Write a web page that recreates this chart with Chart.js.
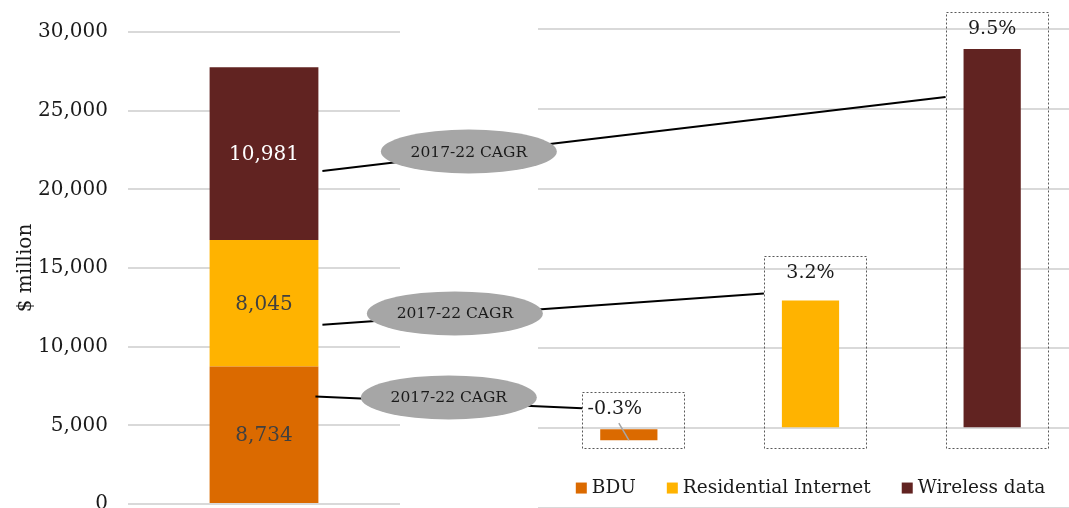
<!DOCTYPE html>
<html>
<head>
<meta charset="utf-8">
<script src="https://cdn.jsdelivr.net/npm/chart.js@4/dist/chart.umd.min.js"></script>
<style>
  html, body { margin: 0; padding: 0; background: #fff; overflow: hidden; width: 1069px; height: 508px; }
  #cLeft { position: absolute; left: 0; top: 0; }
  #cRight { position: absolute; left: 538px; top: 27px; }
  #overlay { position: absolute; left: 0; top: 0; pointer-events: none; }
</style>
</head>
<body>
<canvas id="cLeft" width="400" height="536"></canvas>
<canvas id="cRight" width="545" height="483"></canvas>
<canvas id="overlay" width="1069" height="508"></canvas>
<script>
// ---------------------------------------------------------------------------
// data
const SERIES = ['BDU', 'Residential Internet', 'Wireless data'];
const COLORS = ['#DB6A00', '#FFB300', '#612321'];
const REVENUE = [8734, 8045, 10981];      // $ million, stacked bar
const CAGR = [-0.3, 3.2, 9.5];            // 2017-22 CAGR, %
const Y_TICKS = [0, 5000, 10000, 15000, 20000, 25000, 30000];
const CAGR_TEXT = '2017-22 CAGR';
const Y_TITLE = '$ million';

const FONT = "'DejaVu Serif', 'Liberation Serif', serif";
const GRID = '#D9D9D9';
const INK = '#1a1a1a';

// ---------------------------------------------------------------------------
// value labels inside the stacked bar
const stackLabels = {
    id: 'stackLabels',
    afterDatasetsDraw(chart) {
        const ctx = chart.ctx;
        ctx.save();
        ctx.font = '20px ' + FONT;
        ctx.textAlign = 'center';
        ctx.textBaseline = 'middle';
        chart.data.datasets.forEach((ds, i) => {
            const bar = chart.getDatasetMeta(i).data[0];
            ctx.fillStyle = i === 2 ? '#ffffff' : '#404040';
            ctx.fillText(ds.data[0].toLocaleString('en-US'), bar.x, (bar.y + bar.base) / 2 + 1);
        });
        ctx.restore();
    }
};

const leftChart = new Chart(document.getElementById('cLeft'), {
    type: 'bar',
    data: {
        labels: [''],
        datasets: SERIES.map((s, i) => ({
            label: s,
            data: [REVENUE[i]],
            backgroundColor: COLORS[i],
            barPercentage: 0.4,
            categoryPercentage: 1
        }))
    },
    options: {
        responsive: false,
        animation: false,
        layout: { padding: { top: 18, right: 0, bottom: 0, left: 0 } },
        plugins: { legend: { display: false }, tooltip: { enabled: false } },
        scales: {
            x: { stacked: true, display: false },
            y: {
                stacked: true,
                min: Y_TICKS[0],
                max: Y_TICKS[Y_TICKS.length - 1],
                afterBuildTicks: (s) => { s.ticks = Y_TICKS.map(v => ({ value: v })); },
                afterFit: (s) => { s.width = 128; },
                ticks: {
                    color: INK,
                    font: { family: FONT, size: 20 },
                    padding: 20,
                    callback: (v) => v.toLocaleString('en-US')
                },
                grid: { color: GRID, lineWidth: 2, drawTicks: false },
                border: { display: false },
                title: {
                    display: true,
                    text: Y_TITLE,
                    color: INK,
                    font: { family: FONT, size: 20 },
                    padding: { top: 14, bottom: 6 }
                }
            }
        }
    },
    plugins: [stackLabels]
});

// ---------------------------------------------------------------------------
// custom legend under the CAGR bars
const cagrLegend = {
    id: 'cagrLegend',
    afterDraw(chart) {
        const ctx = chart.ctx;
        const area = chart.chartArea;
        const y = chart.scales.y.getPixelForValue(-1.5);
        const box = 11, gapBox = 5, gapItem = 31;
        ctx.save();
        ctx.font = '18.5px ' + FONT;
        ctx.textBaseline = 'middle';
        const widths = SERIES.map(s => ctx.measureText(s).width);
        const total = widths.reduce((a, w) => a + box + gapBox + w, 0) + gapItem * (SERIES.length - 1);
        let x = (area.left + area.right) / 2 - total / 2;
        SERIES.forEach((s, i) => {
            ctx.fillStyle = COLORS[i];
            ctx.fillRect(x, y - box / 2, box, box);
            x += box + gapBox;
            ctx.fillStyle = INK;
            ctx.fillText(s, x, y);
            x += widths[i] + gapItem;
        });
        ctx.restore();
    }
};

const rightChart = new Chart(document.getElementById('cRight'), {
    type: 'bar',
    data: {
        labels: SERIES,
        datasets: [{
            label: CAGR_TEXT,
            data: CAGR,
            backgroundColor: COLORS,
            barPercentage: 0.315,
            categoryPercentage: 1
        }]
    },
    options: {
        responsive: false,
        animation: false,
        layout: { padding: { top: 2, right: 0, bottom: 2, left: 0 } },
        plugins: { legend: { display: false }, tooltip: { enabled: false } },
        scales: {
            x: { display: false },
            y: {
                min: -2,
                max: 10,
                ticks: { display: false, stepSize: 2 },
                afterFit: (s) => { s.width = 0; },
                grid: { color: GRID, lineWidth: 2, drawTicks: false },
                border: { display: false }
            }
        }
    },
    plugins: [cagrLegend]
});

// ---------------------------------------------------------------------------
// overlay: dashed label boxes, CAGR ellipses and connector lines
const ov = document.getElementById('overlay');
const g = ov.getContext('2d');
const rOff = { x: 538, y: 27 };

// per-series tweaks for the annotation shapes
const LINK_FROM = [0.22, 0.67, 0.6];    // fraction down the stacked segment
const LINK_TO = [16, 37, 85];           // px below the top of the dashed box
const ELLIPSE_AT = [0.5, 0.3, 0.235];   // fraction along the connector
const LABEL_SHIFT = [-14, 0, 0];

const zeroY = rightChart.scales.y.getPixelForValue(0) + rOff.y;
const boxes = rightChart.getDatasetMeta(0).data.map((b, i) => {
    const top = Math.min(b.y, b.base) + rOff.y - (i === 1 ? 44 : 37);
    return {
        left: b.x + rOff.x - b.width / 2 - 18,
        right: b.x + rOff.x + b.width / 2 + 27,
        top: top,
        bottom: zeroY + 20,
        cx: b.x + rOff.x,
        barBottom: Math.max(b.y, b.base) + rOff.y
    };
});

// dashed boxes + percentage labels
g.save();
g.strokeStyle = '#595959';
g.lineWidth = 1;
g.setLineDash([2, 2]);
boxes.forEach(bx => {
    g.strokeRect(Math.round(bx.left) + 0.5, Math.round(bx.top) + 0.5,
        Math.round(bx.right - bx.left), Math.round(bx.bottom - bx.top));
});
g.setLineDash([]);
g.fillStyle = INK;
g.font = '19px ' + FONT;
g.textAlign = 'center';
g.textBaseline = 'middle';
boxes.forEach((bx, i) => {
    g.fillText(CAGR[i].toFixed(1) + '%', bx.cx + LABEL_SHIFT[i], bx.top + 17);
});
// small leader line on the negative bar
g.strokeStyle = '#A6A6A6';
g.lineWidth = 1.5;
g.beginPath();
g.moveTo(boxes[0].cx - 10, boxes[0].top + 31);
g.lineTo(boxes[0].cx, boxes[0].barBottom);
g.stroke();
g.restore();

// connectors and ellipses
SERIES.forEach((s, i) => {
    const seg = leftChart.getDatasetMeta(i).data[0];
    const x0 = seg.x + seg.width / 2 + (i === 0 ? -3 : 4);
    const y0 = seg.y + (seg.base - seg.y) * LINK_FROM[i];
    const x1 = boxes[i].left;
    const y1 = boxes[i].top + LINK_TO[i];
    g.save();
    g.strokeStyle = '#000';
    g.lineWidth = 2;
    g.beginPath();
    g.moveTo(x0, y0);
    g.lineTo(x1, y1);
    g.stroke();
    const t = ELLIPSE_AT[i];
    const ex = x0 + (x1 - x0) * t;
    const ey = y0 + (y1 - y0) * t - (i === 0 ? 5 : 2);
    g.fillStyle = '#A6A6A6';
    g.beginPath();
    g.ellipse(ex, ey, 88, 22, 0, 0, Math.PI * 2);
    g.fill();
    g.fillStyle = INK;
    g.font = '15.5px ' + FONT;
    g.textAlign = 'center';
    g.textBaseline = 'middle';
    g.fillText(CAGR_TEXT, ex, ey + 1);
    g.restore();
});
</script>
</body>
</html>
